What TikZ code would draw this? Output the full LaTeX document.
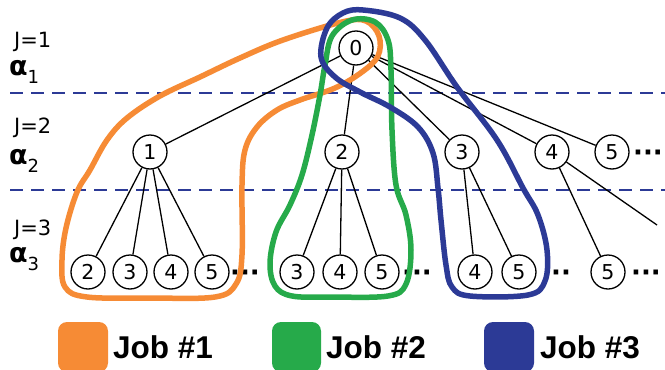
\documentclass[tikz,border=0pt]{standalone}
\usepackage{fontspec}
\setmainfont{DejaVu Sans}
\newfontfamily\legendfont{Liberation Sans}

\definecolor{joborange}{RGB}{246,139,53}
\definecolor{jobgreen}{RGB}{38,170,74}
\definecolor{jobblue}{RGB}{44,58,150}

\begin{document}
\begin{tikzpicture}[x=1pt,y=-1pt,
  st/.style={circle,draw,fill=white,line width=1.3pt,minimum size=34pt,
    inner sep=0pt,font=\fontsize{20.5}{20.5}\selectfont},
  edge/.style={line width=1.3pt},
  levelsep/.style={jobblue,line width=2.3pt,dash pattern=on 13pt off 8pt},
  lvltext/.style={anchor=base west,inner sep=0pt,font=\fontsize{21}{21}\selectfont},
  alphatext/.style={anchor=base west,inner sep=0pt,font=\bfseries\fontsize{27}{27}\selectfont},
  more/.style={anchor=base,inner sep=0pt,font=\bfseries\fontsize{26}{26}\selectfont},
  hull/.style={line width=5.5pt,line join=round},
  swatch/.style={rounded corners=9pt},
  legendtext/.style={anchor=base west,inner sep=0pt,font=\legendfont\bfseries\fontsize{31.5}{31.5}\selectfont}
]
\useasboundingbox (0,0) rectangle (665,370);

% level separators
\draw[levelsep] (10,93) -- (665,93);
\draw[levelsep] (10,190) -- (665,190);

% level labels
\node[lvltext] (j1) at (14,47) {J=1};
\node[alphatext] (al1) at (9,75) {α\raisebox{-8pt}{\mdseries\fontsize{18}{18}\selectfont 1}};
\node[lvltext] (j2) at (14,133) {J=2};
\node[alphatext] (al2) at (9,164) {α\raisebox{-8pt}{\mdseries\fontsize{18}{18}\selectfont 2}};
\node[lvltext] (j3) at (14,235) {J=3};
\node[alphatext] (al3) at (9,262) {α\raisebox{-8pt}{\mdseries\fontsize{18}{18}\selectfont 3}};

% tree nodes
\node[st] (n0) at (356,48) {0};
\node[st] (n1) at (150,152) {1};
\node[st] (n2) at (342,152) {2};
\node[st] (n3) at (462,152) {3};
\node[st] (n4) at (552,152) {4};
\node[st] (n5) at (612,152) {5};

\node[st] (a2) at (88,272) {2};
\node[st] (a3) at (130,272) {3};
\node[st] (a4) at (171,272) {4};
\node[st] (a5) at (212,272) {5};
\node[st] (b3) at (297,272) {3};
\node[st] (b4) at (340,272) {4};
\node[st] (b5) at (382,272) {5};
\node[st] (c4) at (475,272) {4};
\node[st] (c5) at (519,272) {5};
\node[st] (e5) at (608,272) {5};
\coordinate (off) at (657,225);

% continuation marks
\node[more] (m2) at (648,161) {···};
\node[more] (m3a) at (245,281) {···};
\node[more] (m3b) at (417,281) {···};
\node[more] (m3c) at (561,281) {··};
\node[more] (m3d) at (646,281) {···};

% tree edges
\foreach \c in {n1,n2,n3,n4,n5} \draw[edge] (n0) -- (\c);
\foreach \c in {a2,a3,a4,a5} \draw[edge] (n1) -- (\c);
\foreach \c in {b3,b4,b5} \draw[edge] (n2) -- (\c);
\foreach \c in {c4,c5} \draw[edge] (n3) -- (\c);
\draw[edge] (n4) -- (e5);
\draw[edge] (n4) -- (off);

% job hulls
\draw[hull,joborange] plot[smooth cycle,tension=0.6] coordinates {
  (342,22) (366,21) (379,36) (378,56) (362,72) (335,88) (300,100)
  (277,110) (257,127) (245,150) (242,185) (242,255) (236,284) (215,297)
  (150,298) (87,297) (65,287) (62,260) (66,228) (77,192) (90,170)
  (107,140) (127,118) (160,96) (200,77) (240,58) (283,40)};
\draw[hull,jobgreen] plot[smooth cycle,tension=0.6] coordinates {
  (352,20) (375,22) (388,40) (391,70) (392,130) (396,185) (406,215)
  (411,250) (406,284) (388,296) (330,297) (292,296) (275,286) (270,263)
  (276,232) (290,205) (302,175) (312,135) (320,95) (325,65) (332,36)};
\draw[hull,jobblue] plot[smooth cycle,tension=0.6] coordinates {
  (363,10) (400,18) (425,40) (457,87) (497,140) (523,188) (538,215)
  (547,250) (545,281) (528,295) (470,296) (452,287) (446,265) (441,220)
  (438,188) (433,153) (418,127) (390,107) (360,92) (335,77) (321,57)
  (327,28) (343,13)};

% legend
\fill[joborange,swatch] (58,322) rectangle (108,372);
\node[legendtext] (l1) at (113,358) {Job \#1};
\fill[jobgreen,swatch] (272,322) rectangle (321,372);
\node[legendtext] (l2) at (326,358) {Job \#2};
\fill[jobblue,swatch] (484,322) rectangle (534,372);
\node[legendtext] (l3) at (540,358) {Job \#3};
\end{tikzpicture}
\end{document}
